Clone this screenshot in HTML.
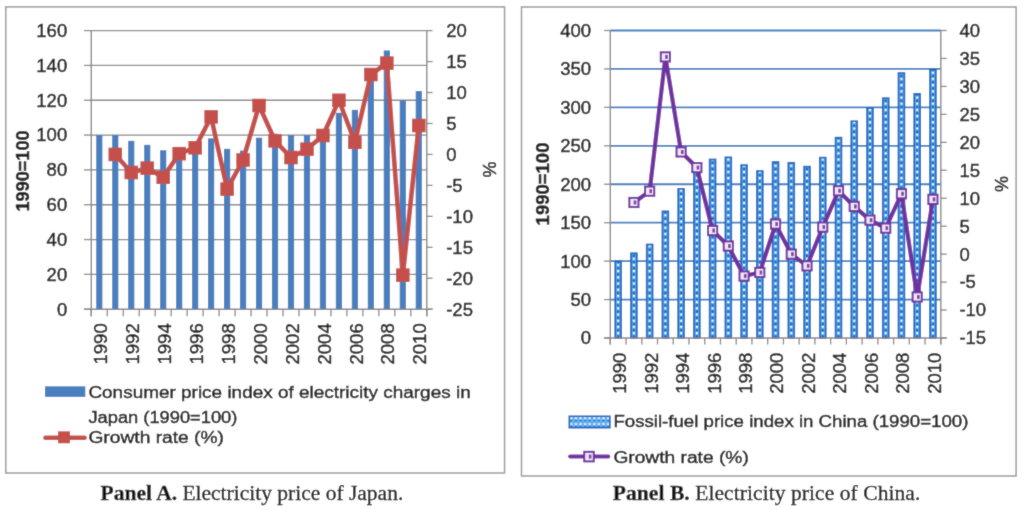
<!DOCTYPE html>
<html><head><meta charset="utf-8"><title>Electricity price charts</title>
<style>
html,body{margin:0;padding:0;background:#fff;}
body{width:1024px;height:510px;overflow:hidden;}
svg{display:block;}
</style></head>
<body>
<svg width="1024" height="510" viewBox="0 0 1024 510">
<defs><filter id="soft" x="0" y="0" width="1024" height="510" filterUnits="userSpaceOnUse"><feConvolveMatrix order="3" kernelMatrix="1 2 1 2 20 2 1 2 1" edgeMode="duplicate"/></filter></defs>
<g filter="url(#soft)">
<rect width="1024" height="510" fill="#fff"/>
<rect x="5.75" y="6.9" width="498.8" height="466.1" fill="none" stroke="#9a9a9a" stroke-width="1.5"/>
<rect x="521.5" y="7" width="494.6" height="469" fill="none" stroke="#9a9a9a" stroke-width="1.5"/>
<line x1="91.30" y1="274.38" x2="426.80" y2="274.38" stroke="#878787" stroke-width="1.3"/><line x1="91.30" y1="239.55" x2="426.80" y2="239.55" stroke="#878787" stroke-width="1.3"/><line x1="91.30" y1="204.73" x2="426.80" y2="204.73" stroke="#878787" stroke-width="1.3"/><line x1="91.30" y1="169.90" x2="426.80" y2="169.90" stroke="#878787" stroke-width="1.3"/><line x1="91.30" y1="135.08" x2="426.80" y2="135.08" stroke="#878787" stroke-width="1.3"/><line x1="91.30" y1="100.25" x2="426.80" y2="100.25" stroke="#878787" stroke-width="1.3"/><line x1="91.30" y1="65.43" x2="426.80" y2="65.43" stroke="#878787" stroke-width="1.3"/><line x1="91.30" y1="30.60" x2="426.80" y2="30.60" stroke="#878787" stroke-width="1.3"/>
<rect x="96.19" y="135.08" width="6.2" height="174.12" fill="#4a7ebf"/><rect x="112.16" y="135.08" width="6.2" height="174.12" fill="#4a7ebf"/><rect x="128.14" y="140.82" width="6.2" height="168.38" fill="#4a7ebf"/><rect x="144.12" y="144.83" width="6.2" height="164.37" fill="#4a7ebf"/><rect x="160.09" y="150.22" width="6.2" height="158.98" fill="#4a7ebf"/><rect x="176.07" y="150.05" width="6.2" height="159.15" fill="#4a7ebf"/><rect x="192.05" y="148.31" width="6.2" height="160.89" fill="#4a7ebf"/><rect x="208.02" y="138.38" width="6.2" height="170.82" fill="#4a7ebf"/><rect x="224.00" y="148.83" width="6.2" height="160.37" fill="#4a7ebf"/><rect x="239.97" y="150.57" width="6.2" height="158.63" fill="#4a7ebf"/><rect x="255.95" y="137.69" width="6.2" height="171.51" fill="#4a7ebf"/><rect x="271.93" y="133.68" width="6.2" height="175.52" fill="#4a7ebf"/><rect x="287.90" y="135.08" width="6.2" height="174.12" fill="#4a7ebf"/><rect x="303.88" y="135.08" width="6.2" height="174.12" fill="#4a7ebf"/><rect x="319.85" y="128.98" width="6.2" height="180.22" fill="#4a7ebf"/><rect x="335.83" y="112.79" width="6.2" height="196.41" fill="#4a7ebf"/><rect x="351.81" y="109.83" width="6.2" height="199.37" fill="#4a7ebf"/><rect x="367.78" y="81.10" width="6.2" height="228.10" fill="#4a7ebf"/><rect x="383.76" y="50.45" width="6.2" height="258.75" fill="#4a7ebf"/><rect x="399.74" y="100.42" width="6.2" height="208.78" fill="#4a7ebf"/><rect x="415.71" y="91.02" width="6.2" height="218.18" fill="#4a7ebf"/>
<line x1="91.30" y1="30.60" x2="91.30" y2="316.20" stroke="#878787" stroke-width="1.4"/><line x1="426.80" y1="30.60" x2="426.80" y2="316.20" stroke="#878787" stroke-width="1.4"/><line x1="84.00" y1="309.20" x2="432.60" y2="309.20" stroke="#878787" stroke-width="1.4"/><line x1="84.00" y1="309.20" x2="91.30" y2="309.20" stroke="#878787" stroke-width="1.3"/><line x1="84.00" y1="274.38" x2="91.30" y2="274.38" stroke="#878787" stroke-width="1.3"/><line x1="84.00" y1="239.55" x2="91.30" y2="239.55" stroke="#878787" stroke-width="1.3"/><line x1="84.00" y1="204.73" x2="91.30" y2="204.73" stroke="#878787" stroke-width="1.3"/><line x1="84.00" y1="169.90" x2="91.30" y2="169.90" stroke="#878787" stroke-width="1.3"/><line x1="84.00" y1="135.08" x2="91.30" y2="135.08" stroke="#878787" stroke-width="1.3"/><line x1="84.00" y1="100.25" x2="91.30" y2="100.25" stroke="#878787" stroke-width="1.3"/><line x1="84.00" y1="65.43" x2="91.30" y2="65.43" stroke="#878787" stroke-width="1.3"/><line x1="84.00" y1="30.60" x2="91.30" y2="30.60" stroke="#878787" stroke-width="1.3"/><line x1="426.80" y1="309.20" x2="432.60" y2="309.20" stroke="#878787" stroke-width="1.3"/><line x1="426.80" y1="278.24" x2="432.60" y2="278.24" stroke="#878787" stroke-width="1.3"/><line x1="426.80" y1="247.29" x2="432.60" y2="247.29" stroke="#878787" stroke-width="1.3"/><line x1="426.80" y1="216.33" x2="432.60" y2="216.33" stroke="#878787" stroke-width="1.3"/><line x1="426.80" y1="185.38" x2="432.60" y2="185.38" stroke="#878787" stroke-width="1.3"/><line x1="426.80" y1="154.42" x2="432.60" y2="154.42" stroke="#878787" stroke-width="1.3"/><line x1="426.80" y1="123.47" x2="432.60" y2="123.47" stroke="#878787" stroke-width="1.3"/><line x1="426.80" y1="92.51" x2="432.60" y2="92.51" stroke="#878787" stroke-width="1.3"/><line x1="426.80" y1="61.56" x2="432.60" y2="61.56" stroke="#878787" stroke-width="1.3"/><line x1="426.80" y1="30.60" x2="432.60" y2="30.60" stroke="#878787" stroke-width="1.3"/><line x1="91.30" y1="309.20" x2="91.30" y2="316.20" stroke="#878787" stroke-width="1.3"/><line x1="107.28" y1="309.20" x2="107.28" y2="316.20" stroke="#878787" stroke-width="1.3"/><line x1="123.25" y1="309.20" x2="123.25" y2="316.20" stroke="#878787" stroke-width="1.3"/><line x1="139.23" y1="309.20" x2="139.23" y2="316.20" stroke="#878787" stroke-width="1.3"/><line x1="155.20" y1="309.20" x2="155.20" y2="316.20" stroke="#878787" stroke-width="1.3"/><line x1="171.18" y1="309.20" x2="171.18" y2="316.20" stroke="#878787" stroke-width="1.3"/><line x1="187.16" y1="309.20" x2="187.16" y2="316.20" stroke="#878787" stroke-width="1.3"/><line x1="203.13" y1="309.20" x2="203.13" y2="316.20" stroke="#878787" stroke-width="1.3"/><line x1="219.11" y1="309.20" x2="219.11" y2="316.20" stroke="#878787" stroke-width="1.3"/><line x1="235.09" y1="309.20" x2="235.09" y2="316.20" stroke="#878787" stroke-width="1.3"/><line x1="251.06" y1="309.20" x2="251.06" y2="316.20" stroke="#878787" stroke-width="1.3"/><line x1="267.04" y1="309.20" x2="267.04" y2="316.20" stroke="#878787" stroke-width="1.3"/><line x1="283.01" y1="309.20" x2="283.01" y2="316.20" stroke="#878787" stroke-width="1.3"/><line x1="298.99" y1="309.20" x2="298.99" y2="316.20" stroke="#878787" stroke-width="1.3"/><line x1="314.97" y1="309.20" x2="314.97" y2="316.20" stroke="#878787" stroke-width="1.3"/><line x1="330.94" y1="309.20" x2="330.94" y2="316.20" stroke="#878787" stroke-width="1.3"/><line x1="346.92" y1="309.20" x2="346.92" y2="316.20" stroke="#878787" stroke-width="1.3"/><line x1="362.90" y1="309.20" x2="362.90" y2="316.20" stroke="#878787" stroke-width="1.3"/><line x1="378.87" y1="309.20" x2="378.87" y2="316.20" stroke="#878787" stroke-width="1.3"/><line x1="394.85" y1="309.20" x2="394.85" y2="316.20" stroke="#878787" stroke-width="1.3"/><line x1="410.82" y1="309.20" x2="410.82" y2="316.20" stroke="#878787" stroke-width="1.3"/><line x1="426.80" y1="309.20" x2="426.80" y2="316.20" stroke="#878787" stroke-width="1.3"/>
<polyline points="115.26,154.42 131.24,172.50 147.22,168.17 163.19,177.21 179.17,153.68 195.15,147.80 211.12,116.90 227.10,189.09 243.07,159.99 259.05,105.51 275.03,140.80 291.00,157.52 306.98,149.22 322.95,135.48 338.93,100.25 354.91,142.23 370.88,74.56 386.86,63.10 402.84,275.15 418.81,125.51" fill="none" stroke="#c4504c" stroke-width="4.6" stroke-linejoin="round"/>
<rect x="108.46" y="147.62" width="13.6" height="13.6" fill="#c4504c"/><rect x="124.44" y="165.70" width="13.6" height="13.6" fill="#c4504c"/><rect x="140.42" y="161.37" width="13.6" height="13.6" fill="#c4504c"/><rect x="156.39" y="170.41" width="13.6" height="13.6" fill="#c4504c"/><rect x="172.37" y="146.88" width="13.6" height="13.6" fill="#c4504c"/><rect x="188.35" y="141.00" width="13.6" height="13.6" fill="#c4504c"/><rect x="204.32" y="110.10" width="13.6" height="13.6" fill="#c4504c"/><rect x="220.30" y="182.29" width="13.6" height="13.6" fill="#c4504c"/><rect x="236.27" y="153.19" width="13.6" height="13.6" fill="#c4504c"/><rect x="252.25" y="98.71" width="13.6" height="13.6" fill="#c4504c"/><rect x="268.23" y="134.00" width="13.6" height="13.6" fill="#c4504c"/><rect x="284.20" y="150.72" width="13.6" height="13.6" fill="#c4504c"/><rect x="300.18" y="142.42" width="13.6" height="13.6" fill="#c4504c"/><rect x="316.15" y="128.68" width="13.6" height="13.6" fill="#c4504c"/><rect x="332.13" y="93.45" width="13.6" height="13.6" fill="#c4504c"/><rect x="348.11" y="135.43" width="13.6" height="13.6" fill="#c4504c"/><rect x="364.08" y="67.76" width="13.6" height="13.6" fill="#c4504c"/><rect x="380.06" y="56.30" width="13.6" height="13.6" fill="#c4504c"/><rect x="396.04" y="268.35" width="13.6" height="13.6" fill="#c4504c"/><rect x="412.01" y="118.71" width="13.6" height="13.6" fill="#c4504c"/>
<g font-family='"Liberation Sans", sans-serif' font-size="18.5" fill="#1a1a1a" stroke="#1a1a1a" stroke-width="0.45"><text x="67.2" y="315.60" text-anchor="end">0</text><text x="67.2" y="280.77" text-anchor="end">20</text><text x="67.2" y="245.95" text-anchor="end">40</text><text x="67.2" y="211.13" text-anchor="end">60</text><text x="67.2" y="176.30" text-anchor="end">80</text><text x="67.2" y="141.48" text-anchor="end">100</text><text x="67.2" y="106.65" text-anchor="end">120</text><text x="67.2" y="71.83" text-anchor="end">140</text><text x="67.2" y="37.00" text-anchor="end">160</text><text x="446.2" y="315.60">-25</text><text x="446.2" y="284.64">-20</text><text x="446.2" y="253.69">-15</text><text x="446.2" y="222.73">-10</text><text x="446.2" y="191.78">-5</text><text x="446.2" y="160.82">0</text><text x="446.2" y="129.87">5</text><text x="446.2" y="98.91">10</text><text x="446.2" y="67.96">15</text><text x="446.2" y="37.00">20</text><text transform="translate(106.89,323.3) rotate(-90)" text-anchor="end">1990</text><text transform="translate(138.84,323.3) rotate(-90)" text-anchor="end">1992</text><text transform="translate(170.79,323.3) rotate(-90)" text-anchor="end">1994</text><text transform="translate(202.75,323.3) rotate(-90)" text-anchor="end">1996</text><text transform="translate(234.70,323.3) rotate(-90)" text-anchor="end">1998</text><text transform="translate(266.65,323.3) rotate(-90)" text-anchor="end">2000</text><text transform="translate(298.60,323.3) rotate(-90)" text-anchor="end">2002</text><text transform="translate(330.55,323.3) rotate(-90)" text-anchor="end">2004</text><text transform="translate(362.51,323.3) rotate(-90)" text-anchor="end">2006</text><text transform="translate(394.46,323.3) rotate(-90)" text-anchor="end">2008</text><text transform="translate(426.41,323.3) rotate(-90)" text-anchor="end">2010</text></g>
<text transform="translate(28.6,171) rotate(-90)" text-anchor="middle" font-family='"Liberation Sans", sans-serif' font-weight="bold" font-size="18.1" fill="#1a1a1a" stroke="#1a1a1a" stroke-width="0.45">1990=100</text>
<text transform="translate(495.6,169.5) rotate(-90)" text-anchor="middle" font-family='"Liberation Sans", sans-serif' font-size="18" fill="#1a1a1a" stroke="#1a1a1a" stroke-width="0.45">%</text>
<rect x="45" y="386.3" width="40.3" height="10.6" fill="#4a7ebf"/>
<line x1="45.4" y1="437.8" x2="84.6" y2="437.8" stroke="#c4504c" stroke-width="4.6" stroke-linecap="round"/>
<rect x="58" y="431.3" width="12" height="12" fill="#c4504c"/>
<g font-family='"Liberation Sans", sans-serif' font-size="17.2" fill="#1a1a1a" stroke="#1a1a1a" stroke-width="0.45"><text x="88.4" y="397.7" textLength="382.3" lengthAdjust="spacingAndGlyphs">Consumer price index of electricity charges in</text><text x="88.4" y="422.7" textLength="149" lengthAdjust="spacingAndGlyphs">Japan (1990=100)</text><text x="88.4" y="443" textLength="135.6" lengthAdjust="spacingAndGlyphs">Growth rate (%)</text></g>
<defs>
<pattern id="dots" patternUnits="userSpaceOnUse" x="610.3" y="0" width="15.738" height="6.2">
<rect width="15.738" height="6.2" fill="#52a4ec"/>
<circle cx="7.87" cy="1.6" r="1.25" fill="#1a5fb0"/>
<rect x="6.9" y="3.6" width="1.9" height="1.9" fill="#ffffff"/>
</pattern>
<pattern id="ldots" patternUnits="userSpaceOnUse" x="569" y="416" width="4.6" height="5.9">
<rect width="4.6" height="5.9" fill="#62aef0"/>
<rect x="1.3" y="1.2" width="2" height="2" fill="#ffffff"/>
<circle cx="2.3" cy="4.5" r="0.9" fill="#1a5fb0"/>
</pattern>
</defs>
<line x1="610.30" y1="299.56" x2="940.80" y2="299.56" stroke="#3c7cbd" stroke-width="1.8"/><line x1="610.30" y1="261.12" x2="940.80" y2="261.12" stroke="#3c7cbd" stroke-width="1.8"/><line x1="610.30" y1="222.69" x2="940.80" y2="222.69" stroke="#3c7cbd" stroke-width="1.8"/><line x1="610.30" y1="184.25" x2="940.80" y2="184.25" stroke="#3c7cbd" stroke-width="1.8"/><line x1="610.30" y1="145.81" x2="940.80" y2="145.81" stroke="#3c7cbd" stroke-width="1.8"/><line x1="610.30" y1="107.38" x2="940.80" y2="107.38" stroke="#3c7cbd" stroke-width="1.8"/><line x1="610.30" y1="68.94" x2="940.80" y2="68.94" stroke="#3c7cbd" stroke-width="1.8"/><line x1="610.30" y1="30.50" x2="940.80" y2="30.50" stroke="#3c7cbd" stroke-width="1.8"/>
<rect x="615.17" y="261.12" width="6.0" height="76.88" fill="url(#dots)" stroke="#1a64bd" stroke-width="1.6"/><rect x="630.91" y="253.21" width="6.0" height="84.79" fill="url(#dots)" stroke="#1a64bd" stroke-width="1.6"/><rect x="646.65" y="244.44" width="6.0" height="93.56" fill="url(#dots)" stroke="#1a64bd" stroke-width="1.6"/><rect x="662.38" y="211.31" width="6.0" height="126.69" fill="url(#dots)" stroke="#1a64bd" stroke-width="1.6"/><rect x="678.12" y="188.79" width="6.0" height="149.21" fill="url(#dots)" stroke="#1a64bd" stroke-width="1.6"/><rect x="693.86" y="167.34" width="6.0" height="170.66" fill="url(#dots)" stroke="#1a64bd" stroke-width="1.6"/><rect x="709.60" y="159.42" width="6.0" height="178.58" fill="url(#dots)" stroke="#1a64bd" stroke-width="1.6"/><rect x="725.34" y="157.27" width="6.0" height="180.73" fill="url(#dots)" stroke="#1a64bd" stroke-width="1.6"/><rect x="741.07" y="165.03" width="6.0" height="172.97" fill="url(#dots)" stroke="#1a64bd" stroke-width="1.6"/><rect x="756.81" y="170.95" width="6.0" height="167.05" fill="url(#dots)" stroke="#1a64bd" stroke-width="1.6"/><rect x="772.55" y="161.96" width="6.0" height="176.04" fill="url(#dots)" stroke="#1a64bd" stroke-width="1.6"/><rect x="788.29" y="162.72" width="6.0" height="175.28" fill="url(#dots)" stroke="#1a64bd" stroke-width="1.6"/><rect x="804.03" y="166.57" width="6.0" height="171.43" fill="url(#dots)" stroke="#1a64bd" stroke-width="1.6"/><rect x="819.76" y="157.57" width="6.0" height="180.43" fill="url(#dots)" stroke="#1a64bd" stroke-width="1.6"/><rect x="835.50" y="137.59" width="6.0" height="200.41" fill="url(#dots)" stroke="#1a64bd" stroke-width="1.6"/><rect x="851.24" y="121.21" width="6.0" height="216.79" fill="url(#dots)" stroke="#1a64bd" stroke-width="1.6"/><rect x="866.98" y="107.99" width="6.0" height="230.01" fill="url(#dots)" stroke="#1a64bd" stroke-width="1.6"/><rect x="882.72" y="98.15" width="6.0" height="239.85" fill="url(#dots)" stroke="#1a64bd" stroke-width="1.6"/><rect x="898.45" y="73.01" width="6.0" height="264.99" fill="url(#dots)" stroke="#1a64bd" stroke-width="1.6"/><rect x="914.19" y="93.77" width="6.0" height="244.23" fill="url(#dots)" stroke="#1a64bd" stroke-width="1.6"/><rect x="929.93" y="69.48" width="6.0" height="268.52" fill="url(#dots)" stroke="#1a64bd" stroke-width="1.6"/>
<line x1="610.30" y1="30.50" x2="610.30" y2="344.50" stroke="#878787" stroke-width="1.4"/><line x1="940.80" y1="30.50" x2="940.80" y2="344.50" stroke="#878787" stroke-width="1.4"/><line x1="604.10" y1="338.00" x2="946.70" y2="338.00" stroke="#878787" stroke-width="1.4"/><line x1="604.10" y1="338.00" x2="610.30" y2="338.00" stroke="#878787" stroke-width="1.3"/><line x1="604.10" y1="299.56" x2="610.30" y2="299.56" stroke="#878787" stroke-width="1.3"/><line x1="604.10" y1="261.12" x2="610.30" y2="261.12" stroke="#878787" stroke-width="1.3"/><line x1="604.10" y1="222.69" x2="610.30" y2="222.69" stroke="#878787" stroke-width="1.3"/><line x1="604.10" y1="184.25" x2="610.30" y2="184.25" stroke="#878787" stroke-width="1.3"/><line x1="604.10" y1="145.81" x2="610.30" y2="145.81" stroke="#878787" stroke-width="1.3"/><line x1="604.10" y1="107.38" x2="610.30" y2="107.38" stroke="#878787" stroke-width="1.3"/><line x1="604.10" y1="68.94" x2="610.30" y2="68.94" stroke="#878787" stroke-width="1.3"/><line x1="604.10" y1="30.50" x2="610.30" y2="30.50" stroke="#878787" stroke-width="1.3"/><line x1="940.80" y1="338.00" x2="946.70" y2="338.00" stroke="#878787" stroke-width="1.3"/><line x1="940.80" y1="310.05" x2="946.70" y2="310.05" stroke="#878787" stroke-width="1.3"/><line x1="940.80" y1="282.09" x2="946.70" y2="282.09" stroke="#878787" stroke-width="1.3"/><line x1="940.80" y1="254.14" x2="946.70" y2="254.14" stroke="#878787" stroke-width="1.3"/><line x1="940.80" y1="226.18" x2="946.70" y2="226.18" stroke="#878787" stroke-width="1.3"/><line x1="940.80" y1="198.23" x2="946.70" y2="198.23" stroke="#878787" stroke-width="1.3"/><line x1="940.80" y1="170.27" x2="946.70" y2="170.27" stroke="#878787" stroke-width="1.3"/><line x1="940.80" y1="142.32" x2="946.70" y2="142.32" stroke="#878787" stroke-width="1.3"/><line x1="940.80" y1="114.36" x2="946.70" y2="114.36" stroke="#878787" stroke-width="1.3"/><line x1="940.80" y1="86.41" x2="946.70" y2="86.41" stroke="#878787" stroke-width="1.3"/><line x1="940.80" y1="58.45" x2="946.70" y2="58.45" stroke="#878787" stroke-width="1.3"/><line x1="940.80" y1="30.50" x2="946.70" y2="30.50" stroke="#878787" stroke-width="1.3"/><line x1="610.30" y1="338.00" x2="610.30" y2="344.50" stroke="#878787" stroke-width="1.3"/><line x1="626.04" y1="338.00" x2="626.04" y2="344.50" stroke="#878787" stroke-width="1.3"/><line x1="641.78" y1="338.00" x2="641.78" y2="344.50" stroke="#878787" stroke-width="1.3"/><line x1="657.51" y1="338.00" x2="657.51" y2="344.50" stroke="#878787" stroke-width="1.3"/><line x1="673.25" y1="338.00" x2="673.25" y2="344.50" stroke="#878787" stroke-width="1.3"/><line x1="688.99" y1="338.00" x2="688.99" y2="344.50" stroke="#878787" stroke-width="1.3"/><line x1="704.73" y1="338.00" x2="704.73" y2="344.50" stroke="#878787" stroke-width="1.3"/><line x1="720.47" y1="338.00" x2="720.47" y2="344.50" stroke="#878787" stroke-width="1.3"/><line x1="736.20" y1="338.00" x2="736.20" y2="344.50" stroke="#878787" stroke-width="1.3"/><line x1="751.94" y1="338.00" x2="751.94" y2="344.50" stroke="#878787" stroke-width="1.3"/><line x1="767.68" y1="338.00" x2="767.68" y2="344.50" stroke="#878787" stroke-width="1.3"/><line x1="783.42" y1="338.00" x2="783.42" y2="344.50" stroke="#878787" stroke-width="1.3"/><line x1="799.16" y1="338.00" x2="799.16" y2="344.50" stroke="#878787" stroke-width="1.3"/><line x1="814.90" y1="338.00" x2="814.90" y2="344.50" stroke="#878787" stroke-width="1.3"/><line x1="830.63" y1="338.00" x2="830.63" y2="344.50" stroke="#878787" stroke-width="1.3"/><line x1="846.37" y1="338.00" x2="846.37" y2="344.50" stroke="#878787" stroke-width="1.3"/><line x1="862.11" y1="338.00" x2="862.11" y2="344.50" stroke="#878787" stroke-width="1.3"/><line x1="877.85" y1="338.00" x2="877.85" y2="344.50" stroke="#878787" stroke-width="1.3"/><line x1="893.59" y1="338.00" x2="893.59" y2="344.50" stroke="#878787" stroke-width="1.3"/><line x1="909.32" y1="338.00" x2="909.32" y2="344.50" stroke="#878787" stroke-width="1.3"/><line x1="925.06" y1="338.00" x2="925.06" y2="344.50" stroke="#878787" stroke-width="1.3"/><line x1="940.80" y1="338.00" x2="940.80" y2="344.50" stroke="#878787" stroke-width="1.3"/>
<polyline points="633.91,202.48 649.65,191.18 665.38,56.89 681.12,151.99 696.86,167.59 712.60,230.54 728.34,246.03 744.07,276.05 759.81,272.47 775.55,224.06 791.29,254.14 807.03,265.88 822.76,227.08 838.50,190.79 854.24,206.45 869.98,220.14 885.72,228.14 901.45,193.75 917.19,296.96 932.93,199.35" fill="none" stroke="#7030a0" stroke-width="4.2" stroke-linejoin="round"/>
<rect x="629.31" y="197.88" width="9.2" height="9.2" fill="#efe6f6" stroke="#7030a0" stroke-width="2"/><rect x="633.71" y="200.48" width="2.6" height="4" fill="#7a3aa6"/><rect x="645.05" y="186.58" width="9.2" height="9.2" fill="#efe6f6" stroke="#7030a0" stroke-width="2"/><rect x="649.45" y="189.18" width="2.6" height="4" fill="#7a3aa6"/><rect x="660.78" y="52.29" width="9.2" height="9.2" fill="#efe6f6" stroke="#7030a0" stroke-width="2"/><rect x="665.18" y="54.89" width="2.6" height="4" fill="#7a3aa6"/><rect x="676.52" y="147.39" width="9.2" height="9.2" fill="#efe6f6" stroke="#7030a0" stroke-width="2"/><rect x="680.92" y="149.99" width="2.6" height="4" fill="#7a3aa6"/><rect x="692.26" y="162.99" width="9.2" height="9.2" fill="#efe6f6" stroke="#7030a0" stroke-width="2"/><rect x="696.66" y="165.59" width="2.6" height="4" fill="#7a3aa6"/><rect x="708.00" y="225.94" width="9.2" height="9.2" fill="#efe6f6" stroke="#7030a0" stroke-width="2"/><rect x="712.40" y="228.54" width="2.6" height="4" fill="#7a3aa6"/><rect x="723.74" y="241.43" width="9.2" height="9.2" fill="#efe6f6" stroke="#7030a0" stroke-width="2"/><rect x="728.14" y="244.03" width="2.6" height="4" fill="#7a3aa6"/><rect x="739.47" y="271.45" width="9.2" height="9.2" fill="#efe6f6" stroke="#7030a0" stroke-width="2"/><rect x="743.87" y="274.05" width="2.6" height="4" fill="#7a3aa6"/><rect x="755.21" y="267.87" width="9.2" height="9.2" fill="#efe6f6" stroke="#7030a0" stroke-width="2"/><rect x="759.61" y="270.47" width="2.6" height="4" fill="#7a3aa6"/><rect x="770.95" y="219.46" width="9.2" height="9.2" fill="#efe6f6" stroke="#7030a0" stroke-width="2"/><rect x="775.35" y="222.06" width="2.6" height="4" fill="#7a3aa6"/><rect x="786.69" y="249.54" width="9.2" height="9.2" fill="#efe6f6" stroke="#7030a0" stroke-width="2"/><rect x="791.09" y="252.14" width="2.6" height="4" fill="#7a3aa6"/><rect x="802.43" y="261.28" width="9.2" height="9.2" fill="#efe6f6" stroke="#7030a0" stroke-width="2"/><rect x="806.83" y="263.88" width="2.6" height="4" fill="#7a3aa6"/><rect x="818.16" y="222.48" width="9.2" height="9.2" fill="#efe6f6" stroke="#7030a0" stroke-width="2"/><rect x="822.56" y="225.08" width="2.6" height="4" fill="#7a3aa6"/><rect x="833.90" y="186.19" width="9.2" height="9.2" fill="#efe6f6" stroke="#7030a0" stroke-width="2"/><rect x="838.30" y="188.79" width="2.6" height="4" fill="#7a3aa6"/><rect x="849.64" y="201.85" width="9.2" height="9.2" fill="#efe6f6" stroke="#7030a0" stroke-width="2"/><rect x="854.04" y="204.45" width="2.6" height="4" fill="#7a3aa6"/><rect x="865.38" y="215.54" width="9.2" height="9.2" fill="#efe6f6" stroke="#7030a0" stroke-width="2"/><rect x="869.78" y="218.14" width="2.6" height="4" fill="#7a3aa6"/><rect x="881.12" y="223.54" width="9.2" height="9.2" fill="#efe6f6" stroke="#7030a0" stroke-width="2"/><rect x="885.52" y="226.14" width="2.6" height="4" fill="#7a3aa6"/><rect x="896.85" y="189.15" width="9.2" height="9.2" fill="#efe6f6" stroke="#7030a0" stroke-width="2"/><rect x="901.25" y="191.75" width="2.6" height="4" fill="#7a3aa6"/><rect x="912.59" y="292.36" width="9.2" height="9.2" fill="#efe6f6" stroke="#7030a0" stroke-width="2"/><rect x="916.99" y="294.96" width="2.6" height="4" fill="#7a3aa6"/><rect x="928.33" y="194.75" width="9.2" height="9.2" fill="#efe6f6" stroke="#7030a0" stroke-width="2"/><rect x="932.73" y="197.35" width="2.6" height="4" fill="#7a3aa6"/>
<g font-family='"Liberation Sans", sans-serif' font-size="18.5" fill="#1a1a1a" stroke="#1a1a1a" stroke-width="0.45"><text x="591" y="344.40" text-anchor="end">0</text><text x="591" y="305.96" text-anchor="end">50</text><text x="591" y="267.52" text-anchor="end">100</text><text x="591" y="229.09" text-anchor="end">150</text><text x="591" y="190.65" text-anchor="end">200</text><text x="591" y="152.21" text-anchor="end">250</text><text x="591" y="113.78" text-anchor="end">300</text><text x="591" y="75.34" text-anchor="end">350</text><text x="591" y="36.90" text-anchor="end">400</text><text x="959.4" y="344.40">-15</text><text x="959.4" y="316.45">-10</text><text x="959.4" y="288.49">-5</text><text x="959.4" y="260.54">0</text><text x="959.4" y="232.58">5</text><text x="959.4" y="204.63">10</text><text x="959.4" y="176.67">15</text><text x="959.4" y="148.72">20</text><text x="959.4" y="120.76">25</text><text x="959.4" y="92.81">30</text><text x="959.4" y="64.85">35</text><text x="959.4" y="36.90">40</text><text transform="translate(626.07,352.6) rotate(-90)" text-anchor="end">1990</text><text transform="translate(657.55,352.6) rotate(-90)" text-anchor="end">1992</text><text transform="translate(689.02,352.6) rotate(-90)" text-anchor="end">1994</text><text transform="translate(720.50,352.6) rotate(-90)" text-anchor="end">1996</text><text transform="translate(751.97,352.6) rotate(-90)" text-anchor="end">1998</text><text transform="translate(783.45,352.6) rotate(-90)" text-anchor="end">2000</text><text transform="translate(814.93,352.6) rotate(-90)" text-anchor="end">2002</text><text transform="translate(846.40,352.6) rotate(-90)" text-anchor="end">2004</text><text transform="translate(877.88,352.6) rotate(-90)" text-anchor="end">2006</text><text transform="translate(909.35,352.6) rotate(-90)" text-anchor="end">2008</text><text transform="translate(940.83,352.6) rotate(-90)" text-anchor="end">2010</text></g>
<text transform="translate(549,184) rotate(-90)" text-anchor="middle" font-family='"Liberation Sans", sans-serif' font-weight="bold" font-size="18.5" fill="#1a1a1a" stroke="#1a1a1a" stroke-width="0.45">1990=100</text>
<text transform="translate(1007.6,184) rotate(-90)" text-anchor="middle" font-family='"Liberation Sans", sans-serif' font-size="18" fill="#1a1a1a" stroke="#1a1a1a" stroke-width="0.45">%</text>
<rect x="569.3" y="416.3" width="40.6" height="11.4" fill="url(#ldots)" stroke="#1a64bd" stroke-width="1.6"/>
<line x1="570.1" y1="456.6" x2="608.3" y2="456.6" stroke="#7030a0" stroke-width="4" stroke-linecap="round"/>
<rect x="584.2" y="451.8" width="9.6" height="9.6" fill="#efe6f6" stroke="#7030a0" stroke-width="2"/><rect x="588.8" y="454.6" width="2.6" height="4" fill="#7a3aa6"/>
<g font-family='"Liberation Sans", sans-serif' font-size="17.2" fill="#1a1a1a" stroke="#1a1a1a" stroke-width="0.45"><text x="613.4" y="427.3" textLength="355" lengthAdjust="spacingAndGlyphs">Fossil-fuel price index in China (1990=100)</text><text x="613.4" y="462.5" textLength="135.4" lengthAdjust="spacingAndGlyphs">Growth rate (%)</text></g>
<g font-family='"Liberation Serif", serif' font-size="21.5" fill="#111" stroke="#111" stroke-width="0.3"><text x="100.6" y="500.3"><tspan font-weight="bold">Panel A.</tspan> Electricity price of Japan.</text><text x="612.8" y="500.3" letter-spacing="0.07"><tspan font-weight="bold">Panel B.</tspan> Electricity price of China.</text></g>
</g>
</svg>
</body></html>
